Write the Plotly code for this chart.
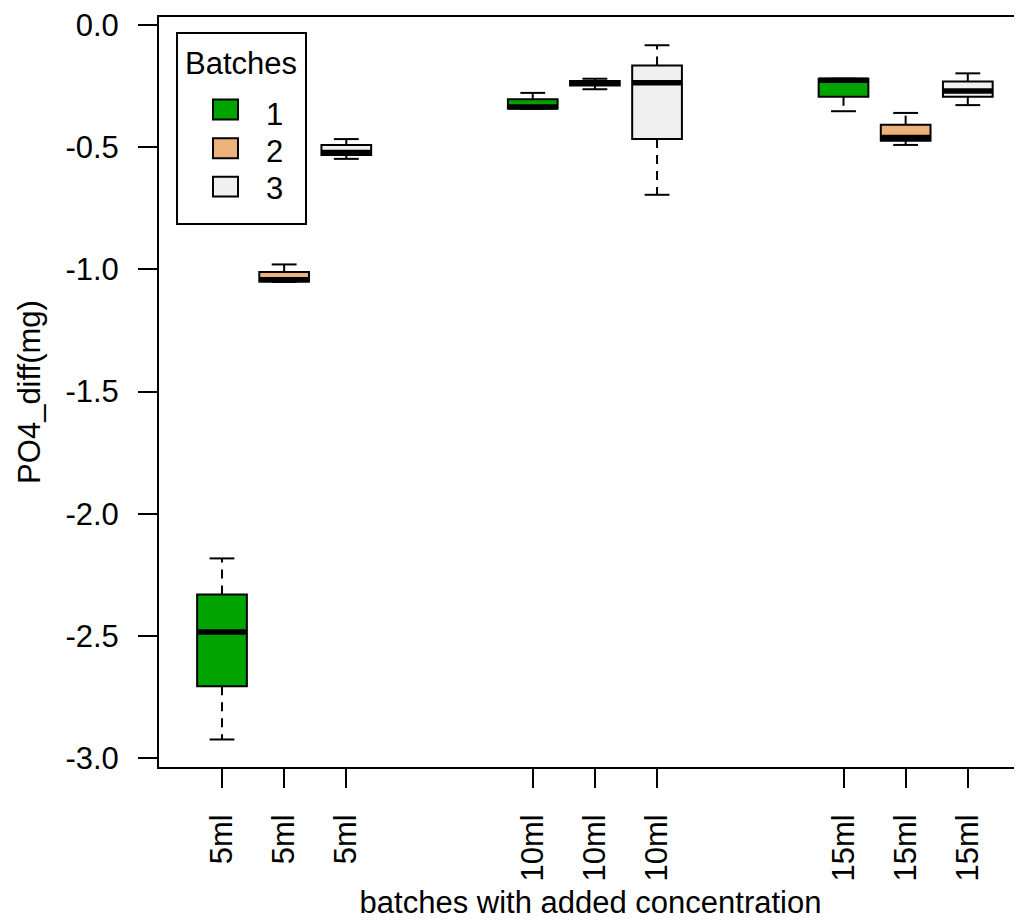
import plotly.graph_objects as go

# ---------------- data ----------------
groups = ["5ml", "10ml", "15ml"]
batches = ["1", "2", "3"]
# one entry per box, order: group-major, batch-minor
box_q1 = [-2.706, -1.050, -0.532, -0.342, -0.248, -0.467, -0.294, -0.474, -0.294]
box_median = [-2.484, -1.043, -0.522, -0.336, -0.237, -0.237, -0.226, -0.461, -0.270]
box_q3 = [-2.331, -1.011, -0.491, -0.304, -0.229, -0.166, -0.220, -0.408, -0.231]
box_lower = [-2.924, -1.052, -0.548, -0.343, -0.263, -0.695, -0.353, -0.491, -0.328]
box_upper = [-2.183, -0.980, -0.467, -0.278, -0.220, -0.083, -0.220, -0.360, -0.198]
y_tick_vals = [0.0, -0.5, -1.0, -1.5, -2.0, -2.5, -3.0]
y_tick_text = ["0.0", "-0.5", "-1.0", "-1.5", "-2.0", "-2.5", "-3.0"]

# ---------------- styles ----------------
batch_colors = {"1": "#00A300", "2": "#EDB27C", "3": "#F0F0F0"}
FONT = "Liberation Sans, Arial, sans-serif"
FS = 31
OFF = 8  # page body margin
W, H = 1022 - OFF, 920 - OFF
L, R, T = 159 - OFF, 0, 13 - OFF
B = H - (767 - OFF)

positions = []
labels = []
colors = []
for gi, g in enumerate(groups):
    for bi, b in enumerate(batches):
        positions.append(gi * 5 + bi + 1)
        labels.append(g)
        colors.append(batch_colors[b])

BOXW = 0.8
CAPW = 0.4

fig = go.Figure()

for i, pos in enumerate(positions):
    fig.add_trace(go.Box(
        x=[pos], q1=[box_q1[i]], median=[box_median[i]], q3=[box_q3[i]],
        lowerfence=[box_q1[i]], upperfence=[box_q3[i]],
        width=BOXW, whiskerwidth=0, fillcolor=colors[i],
        line=dict(color="black", width=2), boxpoints=False,
        showlegend=False, hoverinfo="skip",
    ))

# dashed whiskers
wx, wy = [], []
for i, pos in enumerate(positions):
    wx += [pos, pos, None, pos, pos, None]
    wy += [box_q3[i], box_upper[i], None, box_q1[i], box_lower[i], None]
fig.add_trace(go.Scatter(x=wx, y=wy, mode="lines",
                         line=dict(color="black", width=2, dash="9px,7px"),
                         showlegend=False, hoverinfo="skip"))
# caps
cx, cy = [], []
for i, pos in enumerate(positions):
    cx += [pos - CAPW / 2, pos + CAPW / 2, None, pos - CAPW / 2, pos + CAPW / 2, None]
    cy += [box_upper[i], box_upper[i], None, box_lower[i], box_lower[i], None]
fig.add_trace(go.Scatter(x=cx, y=cy, mode="lines",
                         line=dict(color="black", width=2),
                         showlegend=False, hoverinfo="skip"))
# thick medians
mx, my = [], []
for i, pos in enumerate(positions):
    mx += [pos - BOXW / 2, pos + BOXW / 2, None]
    my += [box_median[i], box_median[i], None]
fig.add_trace(go.Scatter(x=mx, y=my, mode="lines",
                         line=dict(color="black", width=5.5),
                         showlegend=False, hoverinfo="skip"))

# ---------------- manual legend (window pixel coords) ----------------
pw, ph = W - L - R, H - T - B


def px_x(p):
    return (p - OFF - L) / pw


def px_y(p):
    return (H - B - (p - OFF)) / ph


shapes = [dict(type="rect", xref="paper", yref="paper",
               x0=px_x(177), x1=px_x(306), y0=px_y(221), y1=px_y(29),
               line=dict(color="black", width=2), fillcolor="white", layer="above")]
annotations = [dict(text="Batches", xref="paper", yref="paper",
                    x=px_x(241), y=px_y(60), xanchor="center", yanchor="middle",
                    showarrow=False, font=dict(family=FONT, size=FS, color="black"))]
key_centers = [106, 145, 183.5]
label_centers = [111, 148, 185]
for b, kc, lc in zip(batches, key_centers, label_centers):
    shapes.append(dict(type="rect", xref="paper", yref="paper",
                       x0=px_x(213), x1=px_x(238), y0=px_y(kc + 10), y1=px_y(kc - 10),
                       line=dict(color="black", width=2), fillcolor=batch_colors[b],
                       layer="above"))
    annotations.append(dict(text=b, xref="paper", yref="paper",
                            x=px_x(274), y=px_y(lc), xanchor="center", yanchor="middle",
                            showarrow=False,
                            font=dict(family=FONT, size=FS, color="black")))

xr0 = 1 - (222 - 159) / 62.15
xr1 = 1 + (1022 - 222) / 62.15
ypp = 737 / 3.0
yr1 = 0 + (21 - 13) / ypp
yr0 = -3 - (767 - 758) / ypp

fig.update_layout(
    width=W, height=H,
    margin=dict(l=L, r=R, t=T, b=B, pad=0),
    paper_bgcolor="white", plot_bgcolor="white",
    font=dict(family=FONT, size=FS, color="black"),
    showlegend=False,
    shapes=shapes, annotations=annotations,
    xaxis=dict(
        range=[xr0, xr1], autorange=False,
        tickmode="array", tickvals=positions, ticktext=labels, tickangle=-90,
        ticks="outside", ticklen=19, tickwidth=2, tickcolor="black",
        ticklabelstandoff=14, ticklabeloverflow="allow",
        showline=True, linecolor="black", linewidth=2, mirror=True,
        showgrid=False, zeroline=False,
        title=dict(text="batches with added concentration", standoff=14,
                   font=dict(family=FONT, size=FS, color="black")),
        tickfont=dict(family=FONT, size=FS, color="black"),
    ),
    yaxis=dict(
        range=[yr0, yr1], autorange=False,
        tickmode="array", tickvals=y_tick_vals, ticktext=y_tick_text,
        ticks="outside", ticklen=19, tickwidth=2, tickcolor="black",
        ticklabelstandoff=13, ticklabeloverflow="allow",
        showline=True, linecolor="black", linewidth=2, mirror=False,
        showgrid=False, zeroline=False,
        title=dict(text="PO4_diff(mg)", standoff=16,
                   font=dict(family=FONT, size=FS, color="black")),
        tickfont=dict(family=FONT, size=FS, color="black"),
    ),
)

fig.write_html("out.html")
